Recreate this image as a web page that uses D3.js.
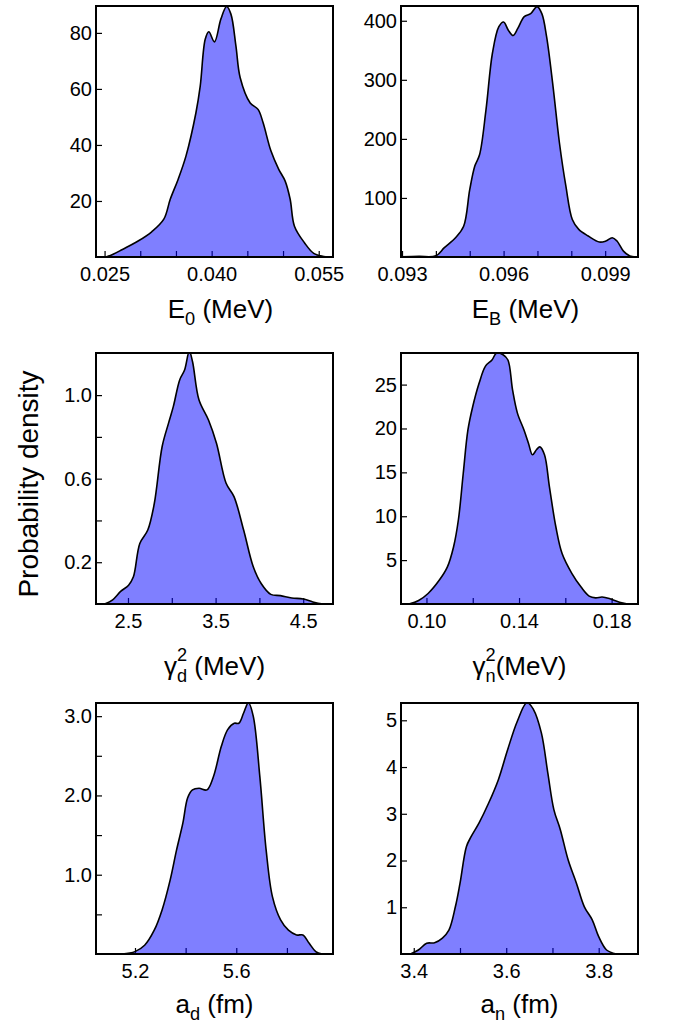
<!DOCTYPE html>
<html><head><meta charset="utf-8">
<script src="https://cdn.jsdelivr.net/npm/d3@7"></script>
<style>body{margin:0;background:#fff} svg{display:block} text{font-family:"Liberation Sans",Arial,Helvetica,sans-serif}</style>
</head><body><svg id="c" width="681" height="1024"></svg>
<script>
// ---- data ----
const e0X = [0.0252,0.0262,0.0275,0.0297,0.0316,0.0333,0.0342,0.0353,0.0364,0.0378,0.0384,0.0391,0.0396,0.0404,0.0413,0.0421,0.0427,0.0434,0.0440,0.0454,0.0465,0.0472,0.0483,0.0494,0.0503,0.0510,0.0516,0.0530,0.0543,0.0557,0.0570];
const e0Y = [0,1,2.7,5.7,9,13.5,20.6,27.7,36,51.5,61,77.7,80.4,76.8,85,89.4,86.7,75.4,64,55,52.7,48,37.9,31.3,27.1,20.6,11,5.1,1.3,0.2,0];
const ebX = [0.09298,0.0935,0.0940,0.09425,0.09458,0.09482,0.0950,0.09515,0.09529,0.09548,0.09567,0.09586,0.0960,0.09614,0.09628,0.09642,0.09661,0.0968,0.09699,0.09713,0.09727,0.09746,0.09765,0.09784,0.09803,0.09822,0.0985,0.09883,0.09902,0.09921,0.09935,0.09954,0.09973,0.0999];
const ebY = [0.5,1,2,15.8,32.6,52,114,154,173,249,345,390,398,384,375,387,407,412,424,412,373,289,193,120,63.6,46.7,35.5,25.3,27,32.6,27,10,1.7,0];
const gdX = [2.234,2.325,2.416,2.507,2.562,2.635,2.726,2.80,2.89,2.963,3.018,3.091,3.146,3.20,3.237,3.31,3.42,3.51,3.62,3.71,3.82,3.93,4.02,4.13,4.24,4.37,4.5,4.61,4.73];
const gdY = [0,0.02,0.06,0.09,0.13,0.29,0.354,0.48,0.754,0.866,0.946,1.074,1.12,1.21,1.16,0.978,0.88,0.77,0.578,0.514,0.354,0.178,0.098,0.046,0.04,0.029,0.024,0.01,0];
const gnX = [0.0924,0.0966,0.1007,0.1055,0.109,0.1117,0.1138,0.1159,0.1179,0.12,0.1228,0.1255,0.1283,0.1303,0.1331,0.1352,0.1372,0.1393,0.1421,0.1441,0.1458,0.1476,0.149,0.151,0.1531,0.1559,0.1586,0.1628,0.1669,0.1703,0.1731,0.1759,0.1793,0.1834,0.1869];
const gnY = [0,0.4,1.2,2.7,4.2,6.5,9.6,14.9,19.8,22.5,25.2,27.1,27.8,28.6,28.4,27.8,24.4,21.75,19.85,18.3,17.0,17.6,17.9,17.0,13.4,8.8,5.75,3.5,1.9,0.9,0.7,0.8,0.6,0.2,0];
const adX = [5.149,5.2,5.238,5.276,5.307,5.339,5.364,5.389,5.408,5.427,5.453,5.484,5.51,5.541,5.566,5.592,5.61,5.629,5.648,5.667,5.693,5.718,5.743,5.775,5.806,5.838,5.863,5.888,5.914,5.939];
const adY = [0,0.03,0.11,0.3,0.556,0.935,1.31,1.65,1.97,2.07,2.09,2.07,2.24,2.62,2.83,2.91,2.91,3.04,3.17,3.0,2.24,1.31,0.72,0.43,0.3,0.24,0.24,0.135,0.03,0];
const anX = [3.393,3.41,3.428,3.445,3.462,3.476,3.49,3.5,3.514,3.524,3.541,3.562,3.583,3.603,3.624,3.645,3.659,3.676,3.69,3.703,3.717,3.734,3.752,3.769,3.786,3.8,3.817,3.838];
const anY = [0,0.086,0.23,0.24,0.34,0.51,1.01,1.51,2.3,2.51,2.8,3.23,3.73,4.37,4.98,5.38,5.23,4.73,3.87,3.09,2.66,2.01,1.51,1.01,0.73,0.37,0.086,0];

// ticks and labels
const e0XTicks = [0.025,0.030,0.035,0.040,0.045,0.050,0.055], e0XLabels = ["0.025","0.040","0.055"];
const e0YTicks = [20,40,60,80], e0YLabels = ["20","40","60","80"];
const ebXTicks = [0.093,0.094,0.095,0.096,0.097,0.098,0.099], ebXLabels = ["0.093","0.096","0.099"];
const ebYTicks = [100,200,300,400], ebYLabels = ["100","200","300","400"];
const gdXTicks = [2.5,3.0,3.5,4.0,4.5], gdXLabels = ["2.5","3.5","4.5"];
const gdYTicks = [0.2,0.4,0.6,0.8,1.0], gdYLabels = ["0.2","0.6","1.0"];
const gnXTicks = [0.10,0.12,0.14,0.16,0.18], gnXLabels = ["0.10","0.14","0.18"];
const gnYTicks = [5,10,15,20,25], gnYLabels = ["5","10","15","20","25"];
const adXTicks = [5.2,5.4,5.6,5.8], adXLabels = ["5.2","5.6"];
const adYTicks = [0.5,1.0,1.5,2.0,2.5,3.0], adYLabels = ["1.0","2.0","3.0"];
const anXTicks = [3.4,3.5,3.6,3.7,3.8], anXLabels = ["3.4","3.6","3.8"];
const anYTicks = [1,2,3,4,5], anYLabels = ["1","2","3","4","5"];
const yAxisTitle = "Probability density";

// ---- layout ----
const colX = [96, 401], rowY = [6, 353, 703], PW = 237, PH = 251;
const titleY = [318, 675, 1013];
const titleDX = [6, 0, 0];
const TF = 26, LF = 20;

const panels = [
  {xs:e0X, ys:e0Y, xd:[0.0238,0.0570], yd:[0,89.6], xt:e0XTicks, xl:e0XLabels, yt:e0YTicks, yl:e0YLabels, c:0, r:0, title:{main:"E", sub:"0", rest:" (MeV)"}},
  {xs:ebX, ys:ebY, xd:[0.09297,0.09997], yd:[0,425], xt:ebXTicks, xl:ebXLabels, yt:ebYTicks, yl:ebYLabels, c:1, r:0, title:{main:"E", sub:"B", rest:" (MeV)"}},
  {xs:gdX, ys:gdY, xd:[2.135,4.84], yd:[0,1.2016], xt:gdXTicks, xl:gdXLabels, yt:gdYTicks, yl:gdYLabels, c:0, r:1, title:{main:"γ", sub:"d", sup:"2", rest:" (MeV)"}},
  {xs:gnX, ys:gnY, xd:[0.089,0.1914], yd:[0,28.6], xt:gnXTicks, xl:gnXLabels, yt:gnYTicks, yl:gnYLabels, c:1, r:1, title:{main:"γ", sub:"n", sup:"2", rest:"(MeV)"}},
  {xs:adX, ys:adY, xd:[5.046,5.982], yd:[0,3.166], xt:adXTicks, xl:adXLabels, yt:adYTicks, yl:adYLabels, c:0, r:2, title:{main:"a", sub:"d", rest:" (fm)"}},
  {xs:anX, ys:anY, xd:[3.3724,3.885], yd:[0,5.37], xt:anXTicks, xl:anXLabels, yt:anYTicks, yl:anYLabels, c:1, r:2, title:{main:"a", sub:"n", rest:" (fm)"}}
];

const svg = d3.select("#c");
const defs = svg.append("defs");

function fmtMatch(labels){
  return d => { const s = labels.find(l => Math.abs(+l - d) < 1e-9); return s === undefined ? "" : s; };
}

panels.forEach((p, i) => {
  const x0 = colX[p.c], y0 = rowY[p.r];
  const g = svg.append("g").attr("transform", `translate(${x0},${y0})`);
  const x = d3.scaleLinear().domain(p.xd).range([0, PW]);
  const y = d3.scaleLinear().domain(p.yd).range([PH, 0]);

  defs.append("clipPath").attr("id", "clip"+i).append("rect").attr("width", PW).attr("height", PH);

  // axes (ticks drawn under translucent fill)
  const xa = g.append("g").attr("transform", `translate(0,${PH})`)
    .call(d3.axisBottom(x).tickValues(p.xt).tickSizeInner(-6).tickSizeOuter(0).tickPadding(10).tickFormat(fmtMatch(p.xl)));
  const ya = g.append("g")
    .call(d3.axisLeft(y).tickValues(p.yt).tickSizeInner(-6).tickSizeOuter(0).tickPadding(4).tickFormat(fmtMatch(p.yl)));
  [xa, ya].forEach(a => {
    a.select(".domain").remove();
    a.selectAll(".tick line").attr("stroke", "#000").attr("stroke-width", 1.2);
    a.selectAll(".tick text").attr("font-size", LF).attr("fill", "#000").style("font-family", '"Liberation Sans",Arial,sans-serif');
  });

  const data = p.xs.map((v, k) => [v, p.ys[k]]);
  const crv = d3.curveCatmullRom.alpha(0.5);
  const area = d3.area().x(d => x(d[0])).y0(PH).y1(d => Math.min(PH, y(d[1]))).curve(crv);
  const line = d3.line().x(d => x(d[0])).y(d => y(d[1])).curve(crv);
  const cg = g.append("g").attr("clip-path", `url(#clip${i})`);
  cg.append("path").datum(data).attr("d", area).attr("fill", "#0000ff").attr("fill-opacity", 0.5);
  cg.append("path").datum(data).attr("d", line).attr("fill", "none").attr("stroke", "#000").attr("stroke-width", 1.6);

  g.append("rect").attr("width", PW).attr("height", PH).attr("fill", "none").attr("stroke", "#000").attr("stroke-width", 2);

  // title
  const t = svg.append("text").attr("x", x0 + PW/2 + titleDX[p.r]).attr("y", titleY[p.r]).attr("text-anchor", "middle").attr("font-size", TF).attr("fill", "#000");
  const sf = TF * 0.7;
  t.append("tspan").text(p.title.main);
  t.append("tspan").attr("font-size", sf).attr("dy", TF*0.25).text(p.title.sub);
  if (p.title.sup) {
    t.append("tspan").attr("font-size", sf).attr("dx", -sf*0.556).attr("dy", -TF*0.78).text(p.title.sup);
    t.append("tspan").attr("dy", TF*0.53).text(p.title.rest);
  } else {
    t.append("tspan").attr("dy", -TF*0.25).text(p.title.rest);
  }
});

svg.append("text").attr("transform", "translate(38,484) rotate(-90)").attr("text-anchor", "middle")
  .attr("font-size", 28).attr("fill", "#000").text(yAxisTitle);
</script></body></html>
